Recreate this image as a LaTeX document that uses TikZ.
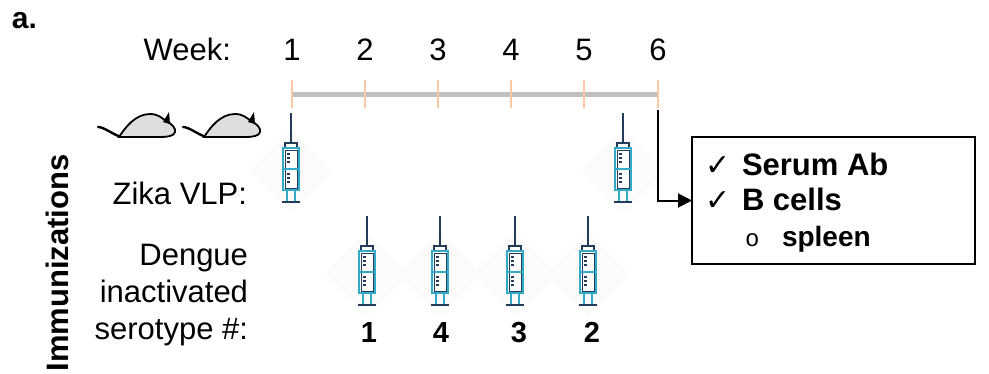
\documentclass[tikz,border=0pt]{standalone}
\usepackage{fontspec}
\setmainfont{Liberation Sans}
\newfontfamily\symfont{DejaVu Sans}
\newfontfamily\bulletfont{Liberation Mono}
\usetikzlibrary{arrows.meta}

\definecolor{tlgray}{RGB}{192,192,192}
\definecolor{tickpeach}{RGB}{250,200,165}
\definecolor{syrcyan}{RGB}{50,170,200}
\definecolor{syrnavy}{RGB}{35,60,90}
\definecolor{mousefill}{RGB}{222,222,222}
\definecolor{diamondfill}{RGB}{251,251,251}

\tikzset{
  lbl/.style={font=\fontsize{31}{37}\selectfont},
  blbl/.style={font=\fontsize{31}{37}\selectfont\bfseries},
  numlbl/.style={font=\fontsize{29}{34}\selectfont\bfseries},
  checklbl/.style={font=\fontsize{30}{36}\selectfont\symfont},
  tickmark/.style={tickpeach, line width=2},
  % syringe, origin at the needle tip
  syringe/.pic={
    \fill[diamondfill] (0,16) -- (42,58) -- (0,100) -- (-42,58) -- cycle;
    \draw[syrnavy, line width=1.6] (0,0) -- (0,30);
    \draw[syrnavy, line width=1.4, fill=white] (-6,30) rectangle (6,35);
    \draw[syrcyan, line width=1.8, fill=white] (-8,35) rectangle (8,77);
    \draw[syrnavy, line width=0.9] (-6,37) rectangle (6,75);
    \draw[syrcyan, line width=1.6] (-8,56) -- (8,56);
    \foreach \yy in {41,45,49,61,65,69}
      \draw[syrnavy, line width=1.2] (-4.5,\yy) -- (-1.5,\yy);
    \draw[syrcyan, line width=1.4] (-4,77) -- (-4,88) (4,77) -- (4,88);
    \draw[syrnavy, line width=1.8] (-9,89) -- (9,89);
  },
  % mouse silhouette, origin at the tail end
  mouse/.pic={
    \draw[black, line width=2.4, line cap=round]
      (0,0) .. controls (6,0) and (14,7) .. (23,10);
    \draw[black, line width=1.8, fill=mousefill]
      (21,10) .. controls (27,1) and (37,-13) .. (52,-13)
      .. controls (60,-13) and (64,-9) .. (68,-6)
      .. controls (74,-3) and (78,1) .. (77,5)
      .. controls (76,9) and (70,10) .. (62,10) -- cycle;
    \fill[black] (65,-5) -- (71,-15) -- (72,-3) -- cycle;
  }
}

\begin{document}
\begin{tikzpicture}[x=1pt, y=-1pt,
  every node/.style={inner sep=0pt, outer sep=0pt}]
\useasboundingbox (0,0) rectangle (989,373);

% panel letter
\node[font=\fontsize{30}{34}\selectfont\bfseries, anchor=base west] (panel) at (12,28) {a.};

% week axis
\node[lbl, anchor=base east] (weeklbl) at (231,60) {Week:};
\foreach \i/\x in {1/292,2/365,3/438,4/511,5/584,6/658}{
  \node[lbl, anchor=base] (wk\i) at (\x,60) {\i};
  \coordinate (t\i) at (\x,94);
}
\draw[tlgray, line width=5] (t1) -- (t6);
\foreach \i in {1,...,6}
  \draw[tickmark] ([yshift=-14pt]t\i) -- ([yshift=14pt]t\i);

% mice
\pic at (98,127) {mouse};
\pic at (183,127) {mouse};

% side labels
\node[blbl, rotate=90, anchor=base] (immun) at (68,263) {Immunizations};
\node[lbl, anchor=base east] (zika) at (247,204) {Zika VLP:};
\node[lbl, anchor=base east] (den1) at (248,265) {Dengue};
\node[lbl, anchor=base east] (den2) at (248,302) {inactivated};
\node[lbl, anchor=base east] (den3) at (248,339) {serotype \#:};

% syringes
\pic at (291,113) {syringe};
\pic at (623,113) {syringe};
\foreach \x in {367,440,515,588}
  \pic at (\x,216) {syringe};

% serotype numbers
\node[numlbl, anchor=base] (s1) at (369,342) {1};
\node[numlbl, anchor=base] (s4) at (441,342) {4};
\node[numlbl, anchor=base] (s3) at (519,342) {3};
\node[numlbl, anchor=base] (s2) at (592,342) {2};

% readout box
\node[draw, line width=1.8, minimum width=283pt, minimum height=127pt,
      anchor=north west] (box) at (692,137) {};
\node[checklbl, anchor=base west] (ck1) at (705,175) {✓};
\node[blbl, anchor=base west] (serum) at (742,175) {Serum Ab};
\node[checklbl, anchor=base west] (ck2) at (705,210) {✓};
\node[blbl, anchor=base west] (bcells) at (742,210) {B cells};
\node[font=\fontsize{24}{28}\selectfont\bulletfont, anchor=base west] (bul) at (745,246) {o};
\node[font=\fontsize{28}{33}\selectfont\bfseries, anchor=base west] (spleen) at (782,246) {spleen};

% connector from week 6 to the readout box
\coordinate (c6) at (658,110);
\draw[line width=2, -{Triangle[length=14pt, width=14pt]}] (c6) |- (box.west);
\end{tikzpicture}
\end{document}
